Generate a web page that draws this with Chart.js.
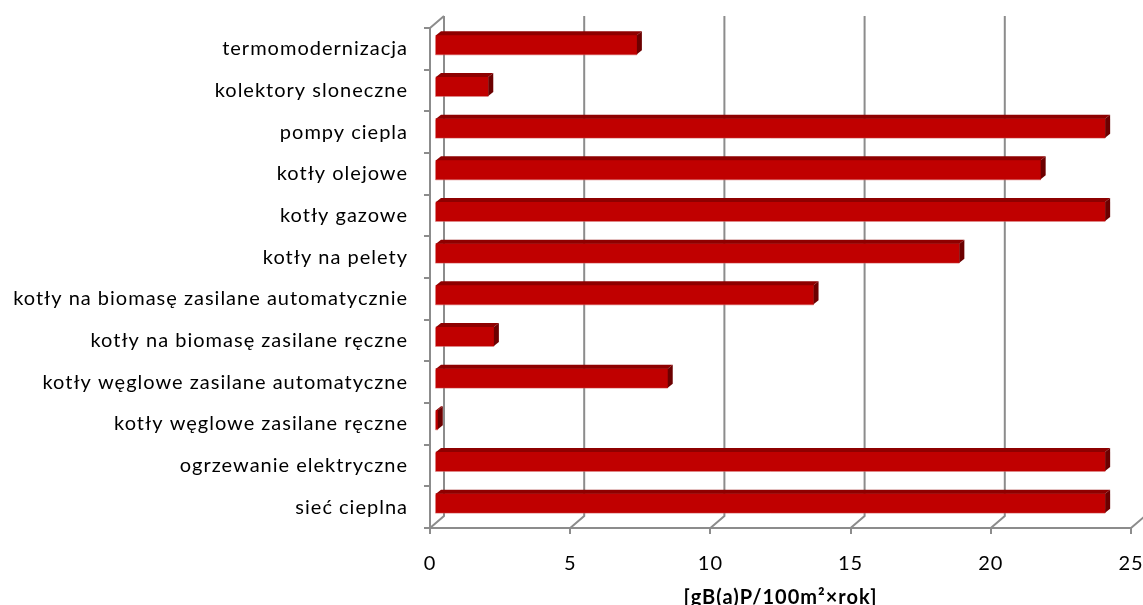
<!DOCTYPE html>
<html>
<head>
<meta charset="utf-8">
<script src="https://cdn.jsdelivr.net/npm/chart.js@4/dist/chart.umd.min.js"></script>
<style>
  html, body { margin: 0; padding: 0; background: #fff; overflow: hidden; }
  #wrap { width: 1143px; height: 605px; position: relative; }
</style>
</head>
<body>
<div id="wrap"><canvas id="c" width="1143" height="605"></canvas></div>
<script>
// Heating systems, top to bottom as listed on the axis
const categories = [
  'termomodernizacja',
  'kolektory sloneczne',
  'pompy ciepla',
  'kotły olejowe',
  'kotły gazowe',
  'kotły na pelety',
  'kotły na biomasę zasilane automatycznie',
  'kotły na biomasę zasilane ręczne',
  'kotły węglowe zasilane automatyczne',
  'kotły węglowe zasilane ręczne',
  'ogrzewanie elektryczne',
  'sieć cieplna'
];

// Emission values per system
const emissionValues = [7.2, 1.9, 23.9, 21.6, 23.9, 18.7, 13.5, 2.1, 8.3, 0.1, 23.9, 23.9];

// Value axis ticks
const xTickValues = [0, 5, 10, 15, 20, 25];
const axisTitle = '[gB(a)P/100m²×rok]';

// 3D look: back wall offset and bar depth
const WALL_DX = 14, WALL_DY = 12;
const BAR_DX = 5, BAR_DY = 4;
const GRID_COLOR = '#8c8c8c';

const depth3d = {
  id: 'depth3d',
  beforeDraw(chart) {
    chart.ctx.letterSpacing = '1px';
  },
  beforeDatasetsDraw(chart) {
    const { ctx, chartArea: a, scales: { x } } = chart;
    ctx.save();
    ctx.strokeStyle = GRID_COLOR;
    ctx.lineWidth = 2;
    ctx.beginPath();
    ctx.moveTo(a.left, a.top);
    ctx.lineTo(a.left + WALL_DX, a.top - WALL_DY);
    xTickValues.forEach(v => {
      const px = x.getPixelForValue(v);
      ctx.moveTo(px + WALL_DX, a.top - WALL_DY);
      ctx.lineTo(px + WALL_DX, a.bottom - WALL_DY);
      ctx.lineTo(px, a.bottom);
    });
    ctx.stroke();
    ctx.restore();
    // bars sit part-way into the depth
    ctx.save();
    ctx.translate(BAR_DX, -BAR_DY);
  },
  afterDatasetsDraw(chart) {
    const { ctx } = chart;
    const meta = chart.getDatasetMeta(0);
    meta.data.forEach(bar => {
      const { x, y, base, height } = bar.getProps(['x', 'y', 'base', 'height'], true);
      const top = y - height / 2, bottom = y + height / 2;
      // soft light edge on left and bottom
      ctx.strokeStyle = 'rgba(210,90,90,0.55)';
      ctx.lineWidth = 1;
      ctx.beginPath();
      ctx.moveTo(base - 0.5, top + 1);
      ctx.lineTo(base - 0.5, bottom + 0.5);
      ctx.lineTo(x, bottom + 0.5);
      ctx.stroke();
      // top face
      ctx.fillStyle = '#8e0000';
      ctx.beginPath();
      ctx.moveTo(base, top);
      ctx.lineTo(base + BAR_DX, top - BAR_DY);
      ctx.lineTo(x + BAR_DX, top - BAR_DY);
      ctx.lineTo(x, top);
      ctx.closePath();
      ctx.fill();
      // end face
      ctx.fillStyle = '#6c0000';
      ctx.beginPath();
      ctx.moveTo(x, top);
      ctx.lineTo(x + BAR_DX, top - BAR_DY);
      ctx.lineTo(x + BAR_DX, bottom - BAR_DY);
      ctx.lineTo(x, bottom);
      ctx.closePath();
      ctx.fill();
    });
    ctx.restore();
  }
};

const labelFont = { family: 'Lato', size: 20 };

new Chart(document.getElementById('c'), {
  type: 'bar',
  data: {
    labels: categories,
    datasets: [{
      data: emissionValues,
      backgroundColor: '#c00000',
      borderWidth: 0,
      barThickness: 19
    }]
  },
  options: {
    indexAxis: 'y',
    responsive: false,
    animation: false,
    devicePixelRatio: 1,
    layout: { padding: { top: 27, right: 12, left: 0, bottom: 0 } },
    plugins: {
      legend: { display: false },
      tooltip: { enabled: false }
    },
    scales: {
      x: {
        type: 'linear',
        min: 0,
        max: 25,
        afterBuildTicks: s => { s.ticks = xTickValues.map(v => ({ value: v })); },
        ticks: { color: '#000', font: labelFont, padding: 18 },
        grid: { drawOnChartArea: false, drawTicks: true, tickLength: 6, color: GRID_COLOR, lineWidth: 2 },
        border: { color: GRID_COLOR, width: 2 },
        title: {
          display: true,
          text: axisTitle,
          color: '#000',
          font: { family: 'Lato', size: 20, weight: 'bold' },
          padding: { top: 0, bottom: -5 }
        },
        afterFit: s => { s.height = 77; s.paddingLeft = 0; s.paddingRight = 0; }
      },
      y: {
        type: 'category',
        ticks: { color: '#000', font: labelFont, padding: 16 },
        grid: { offset: true, drawOnChartArea: false, drawTicks: true, tickLength: 6, color: GRID_COLOR, lineWidth: 2 },
        border: { color: GRID_COLOR, width: 2 },
        afterFit: s => { s.width = 430; }
      }
    }
  },
  plugins: [depth3d]
});
</script>
</body>
</html>
